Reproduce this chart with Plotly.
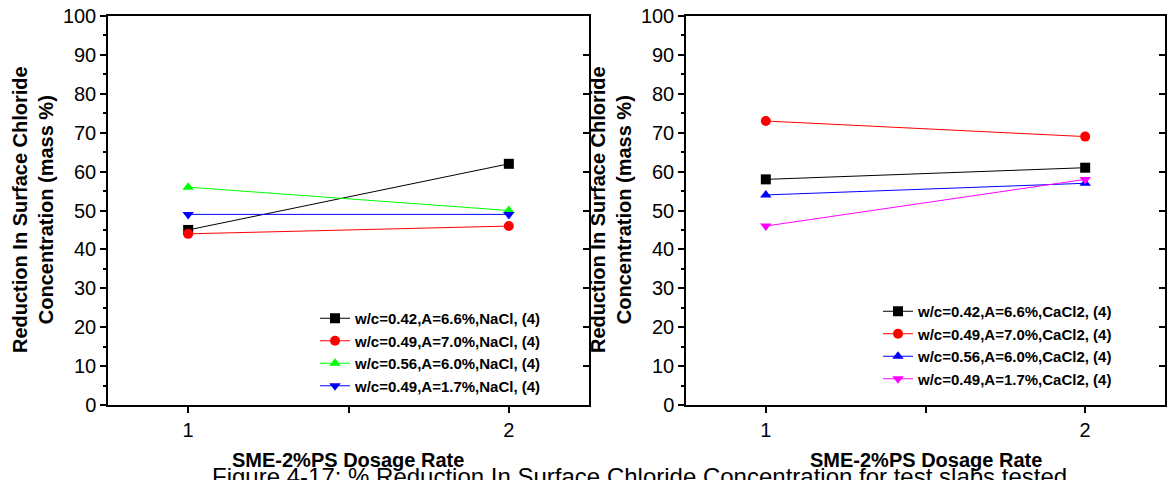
import plotly.graph_objects as go

W, H = 1168, 480

# ---- data ----
dosage = [1, 2]
left_names = [
    "w/c=0.42,A=6.6%,NaCl, (4)",
    "w/c=0.49,A=7.0%,NaCl, (4)",
    "w/c=0.56,A=6.0%,NaCl, (4)",
    "w/c=0.49,A=1.7%,NaCl, (4)",
]
left_s1 = [45, 62]
left_s2 = [44, 46]
left_s3 = [56, 50]
left_s4 = [49, 49]

right_names = [
    "w/c=0.42,A=6.6%,CaCl2, (4)",
    "w/c=0.49,A=7.0%,CaCl2, (4)",
    "w/c=0.56,A=6.0%,CaCl2, (4)",
    "w/c=0.49,A=1.7%,CaCl2, (4)",
]
right_s1 = [58, 61]
right_s2 = [73, 69]
right_s3 = [54, 57]
right_s4 = [46, 58]

y_ticks = list(range(0, 101, 10))
x_ticks = [1, 2]

colors_left = ["#000000", "#ff0000", "#00ff00", "#0000ff"]
colors_right = ["#000000", "#ff0000", "#0000ff", "#ff00ff"]
symbols = ["square", "circle", "triangle-up", "triangle-down"]

FONT = "Arial, Liberation Sans, sans-serif"


def px(x):
    return x / W


def py(y):
    return 1 - y / H


fig = go.Figure()

for name, ys, c, s in zip(left_names, [left_s1, left_s2, left_s3, left_s4], colors_left, symbols):
    fig.add_trace(go.Scatter(x=dosage, y=ys, name=name, mode="lines+markers",
                             line=dict(color=c, width=1),
                             marker=dict(symbol=s, size=10, color=c),
                             xaxis="x", yaxis="y", legend="legend"))

for name, ys, c, s in zip(right_names, [right_s1, right_s2, right_s3, right_s4], colors_right, symbols):
    fig.add_trace(go.Scatter(x=dosage, y=ys, name=name, mode="lines+markers",
                             line=dict(color=c, width=1),
                             marker=dict(symbol=s, size=10, color=c),
                             xaxis="x2", yaxis="y2", legend="legend2"))

# dummy traces for inward mirrored ticks on the right side
fig.add_trace(go.Scatter(x=[], y=[], xaxis="x", yaxis="y3", showlegend=False, hoverinfo="skip"))
fig.add_trace(go.Scatter(x=[], y=[], xaxis="x2", yaxis="y4", showlegend=False, hoverinfo="skip"))

ydom = [py(405), py(16)]
xdom1 = [px(108), px(589)]
xdom2 = [px(686), px(1165)]

xcommon = dict(range=[0.75, 2.25], tickvals=x_ticks, ticks="outside", ticklen=6,
               tickwidth=1.5, tickcolor="black", showline=True, linecolor="black",
               linewidth=1.5, mirror=True, showgrid=False, zeroline=False, automargin=False,
               tickfont=dict(family=FONT, size=20, color="black"),
               minor=dict(tickvals=[1.5], ticks="outside", ticklen=6, tickcolor="black", tickwidth=1.5))
ycommon = dict(range=[0, 100], tickvals=y_ticks, ticks="outside", ticklen=6,
               tickwidth=1.5, tickcolor="black", showline=True, linecolor="black",
               linewidth=1.5, mirror=True, showgrid=False, zeroline=False, automargin=False,
               tickfont=dict(family=FONT, size=20, color="black"),
               minor=dict(dtick=5, ticks="outside", ticklen=3, tickcolor="black", tickwidth=1.5))
ymirror = dict(range=[0, 100], tickvals=y_ticks, ticks="inside", ticklen=6, tickwidth=1.5,
               tickcolor="black", showticklabels=False, showline=False, showgrid=False,
               zeroline=False, side="right", automargin=False)

fig.update_layout(
    template="none",
    width=W, height=H,
    margin=dict(l=0, r=0, t=0, b=0, autoexpand=False),
    paper_bgcolor="white", plot_bgcolor="white",
    font=dict(family=FONT, color="black"),
    xaxis=dict(domain=xdom1, anchor="y", **xcommon),
    yaxis=dict(domain=ydom, anchor="x", **ycommon),
    xaxis2=dict(domain=xdom2, anchor="y2", **xcommon),
    yaxis2=dict(domain=ydom, anchor="x2", **ycommon),
    yaxis3=dict(overlaying="y", anchor="x", **ymirror),
    yaxis4=dict(overlaying="y2", anchor="x2", **ymirror),
    legend=dict(x=px(315), y=py(302), xanchor="left", yanchor="top",
                bgcolor="rgba(0,0,0,0)", borderwidth=0, tracegroupgap=0,
                font=dict(family=FONT, size=15, color="black", weight="bold")),
    legend2=dict(x=px(878), y=py(295), xanchor="left", yanchor="top",
                 bgcolor="rgba(0,0,0,0)", borderwidth=0, tracegroupgap=0,
                 font=dict(family=FONT, size=15, color="black", weight="bold")),
    showlegend=True,
)

ytitle = "<b>Reduction In Surface Chloride<br>Concentration (mass %)</b>"
xtitle = "<b>SME-2%PS Dosage Rate</b>"
ann = [
    dict(text=ytitle, x=px(33), y=py(210), textangle=-90),
    dict(text=ytitle, x=px(611), y=py(210), textangle=-90),
    dict(text=xtitle, x=px(348), y=py(460)),
    dict(text=xtitle, x=px(926), y=py(460)),
]
for a in ann:
    fig.add_annotation(xref="paper", yref="paper", showarrow=False,
                       xanchor="center", yanchor="middle",
                       font=dict(family=FONT, size=20, color="black"), **a)

fig.add_annotation(xref="paper", yref="paper", showarrow=False,
                   x=px(210), y=py(461), xanchor="left", yanchor="top",
                   text="Figure 4-17: % Reduction In Surface Chloride Concentration for test slabs tested",
                   font=dict(family=FONT, size=24, color="black"))

fig.write_html(
    "out.html",
    config={"displayModeBar": False},
    post_script="document.documentElement.style.margin='0';document.body.style.margin='0';"
                "document.body.style.overflow='hidden';",
)
